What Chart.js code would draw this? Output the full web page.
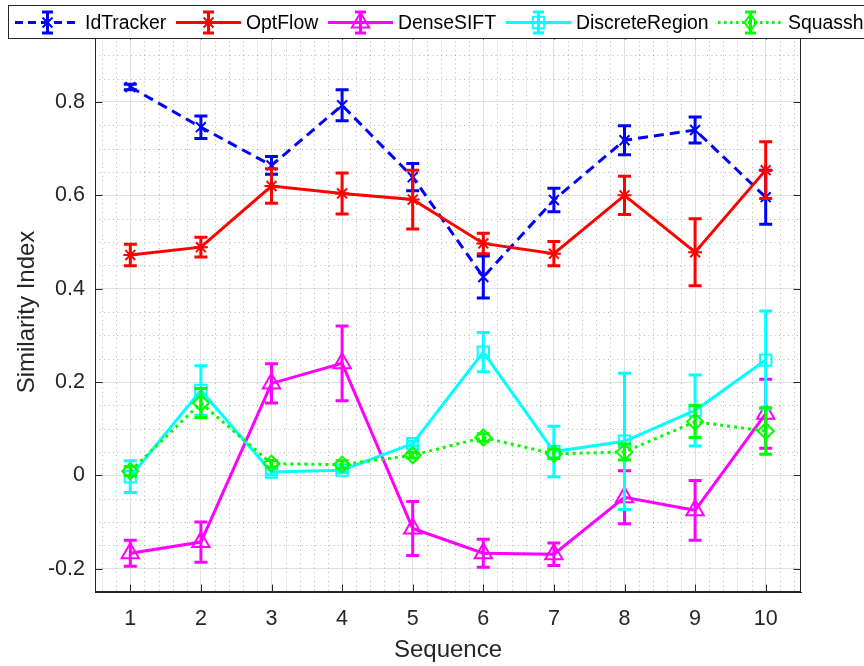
<!DOCTYPE html>
<html>
<head>
<meta charset="utf-8">
<title>Similarity Index per Sequence</title>
<script src="https://cdn.jsdelivr.net/npm/chart.js@4.4.1/dist/chart.umd.min.js"></script>
<style>
  html, body { margin: 0; padding: 0; background: #fff; }
  #wrap { width: 864px; height: 666px; }
</style>
</head>
<body>
<div id="wrap"><canvas id="simChart" width="864" height="666"></canvas></div>
<script>
// data
const sequences = [1, 2, 3, 4, 5, 6, 7, 8, 9, 10];
const seriesNames = ['IdTracker', 'OptFlow', 'DenseSIFT', 'DiscreteRegion', 'Squassh'];

const idTracker      = [0.832, 0.746, 0.664, 0.793, 0.639, 0.425, 0.590, 0.718, 0.740, 0.596];
const idTrackerErr   = [0.006, 0.024, 0.019, 0.033, 0.029, 0.045, 0.025, 0.031, 0.028, 0.058];
const optFlow        = [0.472, 0.489, 0.620, 0.604, 0.591, 0.497, 0.475, 0.600, 0.478, 0.654];
const optFlowErr     = [0.023, 0.021, 0.037, 0.044, 0.063, 0.022, 0.026, 0.041, 0.072, 0.061];
const denseSift      = [-0.167, -0.143, 0.197, 0.240, -0.114, -0.167, -0.169, -0.047, -0.075, 0.132];
const denseSiftErr   = [0.028, 0.043, 0.042, 0.080, 0.058, 0.030, 0.024, 0.057, 0.064, 0.074];
const discreteRegion = [-0.003, 0.182, 0.007, 0.011, 0.068, 0.264, 0.051, 0.073, 0.139, 0.247];
const discreteRegErr = [0.034, 0.053, 0.006, 0.005, 0.005, 0.042, 0.054, 0.146, 0.076, 0.105];
const squassh        = [0.009, 0.155, 0.025, 0.023, 0.043, 0.081, 0.046, 0.050, 0.115, 0.095];
const squasshErr     = [0.010, 0.031, 0.007, 0.008, 0.006, 0.008, 0.010, 0.017, 0.034, 0.050];

const xTickValues = [1, 2, 3, 4, 5, 6, 7, 8, 9, 10];
const xTickLabels = ['1', '2', '3', '4', '5', '6', '7', '8', '9', '10'];
const yTickValues = [-0.2, 0, 0.2, 0.4, 0.6, 0.8];
const yTickLabels = ['-0.2', '0', '0.2', '0.4', '0.6', '0.8'];

const seriesValues = [idTracker, optFlow, denseSift, discreteRegion, squassh];
const seriesErrors = [idTrackerErr, optFlowErr, denseSiftErr, discreteRegErr, squasshErr];

const fontFamily = '"Liberation Sans", Arial, Helvetica, sans-serif';
const axisColor = '#262626';

const styles = [
  { color: '#0000ff', dash: [10, 6], marker: 'crossRot', radius: 7 },
  { color: '#ff0000', dash: [],      marker: 'star',     radius: 7 },
  { color: '#ff00ff', dash: [],      marker: 'triangle', radius: 10 },
  { color: '#00ffff', dash: [],      marker: 'rect',     radius: 8 },
  { color: '#00ff00', dash: [3, 4],  marker: 'rectRot',  radius: 8 }
];

const datasets = seriesNames.map((name, i) => ({
  label: name,
  data: sequences.map((s, j) => ({ x: s, y: seriesValues[i][j] })),
  borderColor: styles[i].color,
  borderWidth: 3,
  borderDash: styles[i].dash,
  tension: 0,
  fill: false,
  pointStyle: styles[i].marker,
  pointRadius: styles[i].radius,
  pointBorderWidth: 2,
  pointBorderColor: styles[i].color,
  pointBackgroundColor: 'rgba(0,0,0,0)',
  order: seriesNames.length - i   // later series on top, like matlab
}));

// error bars, drawn per dataset so layering follows the series
const errorBars = {
  id: 'errorBars',
  afterDatasetDraw(chart, args) {
    const i = args.index;
    const ctx = chart.ctx;
    const xs = chart.scales.x, ys = chart.scales.y;
    ctx.save();
    ctx.strokeStyle = styles[i].color;
    ctx.lineWidth = 3;
    ctx.setLineDash([]);
    sequences.forEach((s, j) => {
      const px = xs.getPixelForValue(s);
      const top = ys.getPixelForValue(seriesValues[i][j] + seriesErrors[i][j]);
      const bot = ys.getPixelForValue(seriesValues[i][j] - seriesErrors[i][j]);
      ctx.beginPath();
      ctx.moveTo(px, top); ctx.lineTo(px, bot);
      ctx.moveTo(px - 6.5, top); ctx.lineTo(px + 6.5, top);
      ctx.moveTo(px - 6.5, bot); ctx.lineTo(px + 6.5, bot);
      ctx.stroke();
    });
    ctx.restore();
  }
};

// minor dotted grid, box outline and inward ticks
const axesDecor = {
  id: 'axesDecor',
  beforeDatasetsDraw(chart) {
    const ctx = chart.ctx;
    const a = chart.chartArea;
    const xs = chart.scales.x, ys = chart.scales.y;
    ctx.save();
    ctx.strokeStyle = 'rgba(0,0,0,0.28)';
    ctx.lineWidth = 1;
    ctx.setLineDash([1, 3.5]);
    for (let k = 3; k <= 52; k++) {
      if (k % 5 === 0) continue;
      const px = Math.round(xs.getPixelForValue(k / 5)) + 0.5;
      ctx.beginPath(); ctx.moveTo(px, a.top); ctx.lineTo(px, a.bottom); ctx.stroke();
    }
    for (let k = -5; k <= 19; k++) {
      if (k % 4 === 0) continue;
      const py = Math.round(ys.getPixelForValue(k / 20)) + 0.5;
      ctx.beginPath(); ctx.moveTo(a.left, py); ctx.lineTo(a.right, py); ctx.stroke();
    }
    ctx.setLineDash([]);
    ctx.strokeStyle = axisColor;
    ctx.lineWidth = 1;
    const l = Math.round(a.left) + 0.5, r = Math.round(a.right) - 0.5;
    const t = Math.round(a.top) + 0.5, b = Math.round(a.bottom) - 0.5;
    ctx.strokeRect(l, t, r - l, b - t);
    ctx.beginPath();
    xTickValues.forEach(v => {
      const px = Math.round(xs.getPixelForValue(v)) + 0.5;
      ctx.moveTo(px, b); ctx.lineTo(px, b - 7);
      ctx.moveTo(px, t); ctx.lineTo(px, t + 7);
    });
    yTickValues.forEach(v => {
      const py = Math.round(ys.getPixelForValue(v)) + 0.5;
      ctx.moveTo(l, py); ctx.lineTo(l + 7, py);
      ctx.moveTo(r, py); ctx.lineTo(r - 7, py);
    });
    ctx.stroke();
    ctx.restore();
  }
};

function drawMarker(ctx, style, x, y, r) {
  ctx.beginPath();
  if (style === 'triangle') {
    ctx.moveTo(x, y - r);
    ctx.lineTo(x + r * 0.866, y + r * 0.5);
    ctx.lineTo(x - r * 0.866, y + r * 0.5);
    ctx.closePath();
  } else if (style === 'rect') {
    const h = r * Math.SQRT1_2;
    ctx.rect(x - h, y - h, 2 * h, 2 * h);
  } else if (style === 'rectRot') {
    ctx.moveTo(x, y - r); ctx.lineTo(x + r * 0.75, y);
    ctx.lineTo(x, y + r); ctx.lineTo(x - r * 0.75, y);
    ctx.closePath();
  } else {
    const d = r * Math.SQRT1_2;
    ctx.moveTo(x - d, y - d); ctx.lineTo(x + d, y + d);
    ctx.moveTo(x + d, y - d); ctx.lineTo(x - d, y + d);
    if (style === 'star') {
      ctx.moveTo(x - r, y); ctx.lineTo(x + r, y);
      ctx.moveTo(x, y - r); ctx.lineTo(x, y + r);
    }
  }
  ctx.stroke();
}

// matlab style legend box across the top
const legendStarts = [15, 176, 328, 506, 718];
const topLegend = {
  id: 'topLegend',
  afterDraw(chart) {
    const ctx = chart.ctx;
    ctx.save();
    ctx.fillStyle = '#fff';
    ctx.fillRect(8, 5, 880, 34);
    ctx.strokeStyle = axisColor;
    ctx.lineWidth = 1;
    ctx.strokeRect(8.5, 5.5, 880, 33);
    const cy = 22.5;
    seriesNames.forEach((name, i) => {
      const x0 = legendStarts[i];
      const mx = x0 + 32.5;
      ctx.strokeStyle = styles[i].color;
      ctx.lineWidth = 3;
      ctx.setLineDash(styles[i].dash.length ? (i === 0 ? [8, 5] : [2.5, 3.5]) : []);
      ctx.beginPath(); ctx.moveTo(x0, cy); ctx.lineTo(x0 + 65, cy); ctx.stroke();
      ctx.setLineDash([]);
      ctx.beginPath();
      ctx.moveTo(mx, cy - 10.5); ctx.lineTo(mx, cy + 10.5);
      ctx.moveTo(mx - 5.5, cy - 10.5); ctx.lineTo(mx + 5.5, cy - 10.5);
      ctx.moveTo(mx - 5.5, cy + 10.5); ctx.lineTo(mx + 5.5, cy + 10.5);
      ctx.stroke();
      ctx.lineWidth = 2;
      drawMarker(ctx, styles[i].marker, mx, cy, styles[i].radius);
      ctx.fillStyle = '#000';
      ctx.font = '19.4px ' + fontFamily;
      ctx.textBaseline = 'middle';
      ctx.textAlign = 'left';
      ctx.fillText(name, x0 + 70, cy + 1);
    });
    ctx.restore();
  }
};

new Chart(document.getElementById('simChart'), {
  type: 'line',
  data: { datasets: datasets },
  options: {
    responsive: false,
    animation: false,
    layout: { padding: { left: 0, right: 63, top: 32, bottom: 0 } },
    plugins: { legend: { display: false }, tooltip: { enabled: false } },
    scales: {
      x: {
        type: 'linear',
        min: 0.5,
        max: 10.5,
        afterBuildTicks: s => { s.ticks = xTickValues.map(v => ({ value: v })); },
        afterFit: s => { s.height = 74; },
        ticks: {
          callback: (v, i) => xTickLabels[i],
          font: { family: fontFamily, size: 21.5 },
          color: axisColor,
          padding: 14,
          maxRotation: 0
        },
        grid: { color: '#e0e0e0', lineWidth: 1, drawTicks: false },
        border: { display: true, color: axisColor, width: 1 },
        title: {
          display: true,
          text: 'Sequence',
          font: { family: fontFamily, size: 24 },
          color: axisColor,
          padding: { top: 0, bottom: 1 }
        }
      },
      y: {
        min: -0.25,
        max: 0.95,
        afterBuildTicks: s => { s.ticks = yTickValues.map(v => ({ value: v })); },
        afterFit: s => { s.width = 95; },
        ticks: {
          callback: (v, i) => yTickLabels[i],
          font: { family: fontFamily, size: 21.5 },
          color: axisColor,
          padding: 10
        },
        grid: { color: '#e0e0e0', lineWidth: 1, drawTicks: false },
        border: { display: true, color: axisColor, width: 1 },
        title: {
          display: true,
          text: 'Similarity Index',
          font: { family: fontFamily, size: 24 },
          color: axisColor,
          padding: { top: 13, bottom: 0 }
        }
      }
    }
  },
  plugins: [axesDecor, errorBars, topLegend]
});
</script>
</body>
</html>
